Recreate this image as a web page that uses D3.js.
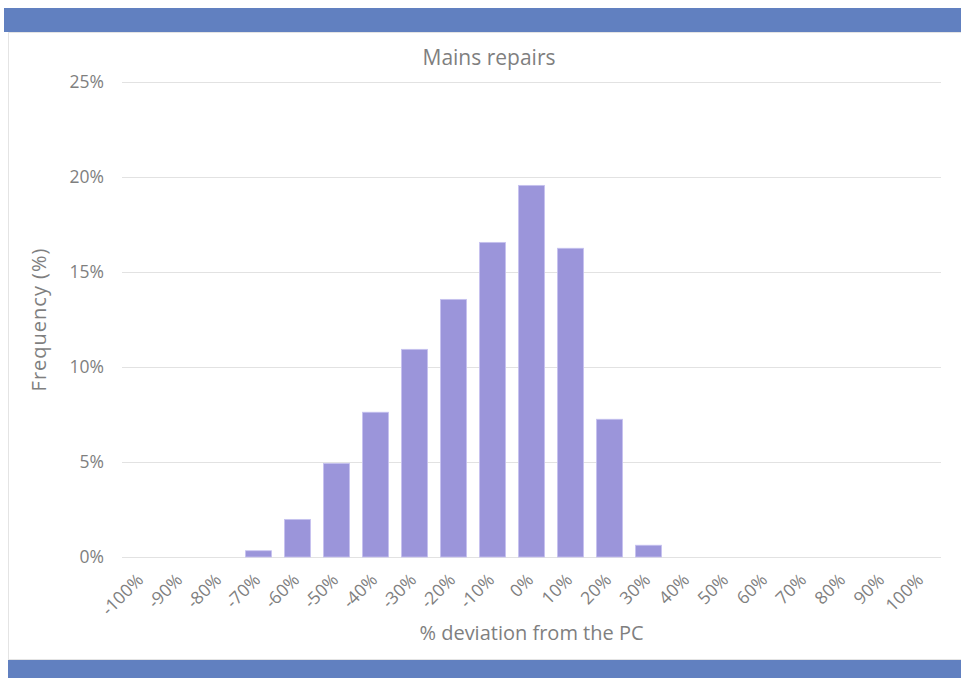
<!DOCTYPE html>
<html>
<head>
<meta charset="utf-8">
<script src="https://cdn.jsdelivr.net/npm/d3@7"></script>
<style>
  body { margin: 0; background: #fff; }
  svg { display: block; font-family: "Open Sans", "Noto Sans", sans-serif; }
</style>
</head>
<body>
<div id="chart"></div>
<script>
// 数据
const categories = ['-100%', '-90%', '-80%', '-70%', '-60%', '-50%', '-40%', '-30%', '-20%', '-10%',
    '0%', '10%', '20%', '30%', '40%', '50%', '60%', '70%', '80%', '90%', '100%'];
const frequency = [0, 0, 0, 0.33, 1.98, 4.93, 7.62, 10.93, 13.56, 16.56,
    19.56, 16.25, 7.25, 0.62, 0, 0, 0, 0, 0, 0, 0];
const yTicks = [0, 5, 10, 15, 20, 25];

const width = 961, height = 678;
const margin = { top: 82, right: 20, bottom: 121, left: 122 };
const plotW = 941 - margin.left;
const plotH = 557 - margin.top;
const textColor = '#7f7f7f';

const svg = d3.select('#chart')
    .append('svg')
    .attr('width', width)
    .attr('height', height);

// 边框和色带
svg.append('rect')
    .attr('x', 8.5).attr('y', 32.5)
    .attr('width', width).attr('height', 627)
    .attr('fill', '#fff')
    .attr('stroke', '#e4e4e4');
svg.append('rect')
    .attr('x', 4).attr('y', 8)
    .attr('width', width - 4).attr('height', 24)
    .attr('fill', '#6180c0');
svg.append('rect')
    .attr('x', 8).attr('y', 660)
    .attr('width', width - 8).attr('height', 18)
    .attr('fill', '#6180c0');

const g = svg.append('g')
    .attr('transform', `translate(${margin.left},${margin.top})`);

const x = d3.scaleBand()
    .domain(categories)
    .range([0, plotW])
    .paddingInner(0.33)
    .paddingOuter(0.165);

const y = d3.scaleLinear()
    .domain([0, 25])
    .range([plotH, 0]);

// 网格线
g.selectAll('.grid')
    .data(yTicks)
    .enter()
    .append('line')
    .attr('x1', 0)
    .attr('x2', plotW)
    .attr('y1', d => Math.round(y(d)) + 0.5)
    .attr('y2', d => Math.round(y(d)) + 0.5)
    .attr('stroke', '#e2e2e2')
    .attr('stroke-width', 1.2);

// y轴刻度
const yAxis = g.append('g')
    .call(d3.axisLeft(y).tickValues(yTicks).tickFormat(d => d + '%').tickSize(0).tickPadding(18));
yAxis.select('.domain').remove();
yAxis.selectAll('text')
    .attr('fill', textColor)
    .attr('font-size', '17.5px')
    .attr('font-family', '"Open Sans", sans-serif');

// 柱子
g.selectAll('.bar')
    .data(categories.map((c, i) => ({ cat: c, val: frequency[i] })))
    .enter()
    .append('rect')
    .attr('class', 'bar')
    .attr('x', d => x(d.cat))
    .attr('y', d => y(d.val))
    .attr('width', x.bandwidth())
    .attr('height', d => plotH - y(d.val))
    .attr('fill', d => d.val > 0 ? '#9b95da' : 'none')
    .attr('stroke', d => d.val > 0 ? '#c7c3f0' : 'none')
    .attr('stroke-width', 0.8);

// x轴刻度
const xAxis = g.append('g')
    .attr('transform', `translate(0,${plotH})`)
    .call(d3.axisBottom(x).tickSize(0).tickPadding(0));
xAxis.select('.domain').remove();
xAxis.selectAll('text')
    .attr('fill', textColor)
    .attr('font-size', '17.5px')
    .attr('font-family', '"Open Sans", sans-serif')
    .attr('text-anchor', 'end')
    .attr('dy', '0')
    .attr('transform', 'translate(3,24) rotate(-45)');

// 标题
svg.append('text')
    .attr('x', 489)
    .attr('y', 65)
    .attr('text-anchor', 'middle')
    .attr('fill', textColor)
    .attr('font-size', '21px')
    .text('Mains repairs');

svg.append('text')
    .attr('x', margin.left + plotW / 2)
    .attr('y', 640)
    .attr('text-anchor', 'middle')
    .attr('fill', textColor)
    .attr('font-size', '20px')
    .text('% deviation from the PC');

svg.append('text')
    .attr('transform', `translate(46,${margin.top + plotH / 2}) rotate(-90)`)
    .attr('text-anchor', 'middle')
    .attr('fill', textColor)
    .attr('font-size', '20px')
    .attr('letter-spacing', '1px')
    .text('Frequency (%)');
</script>
</body>
</html>
